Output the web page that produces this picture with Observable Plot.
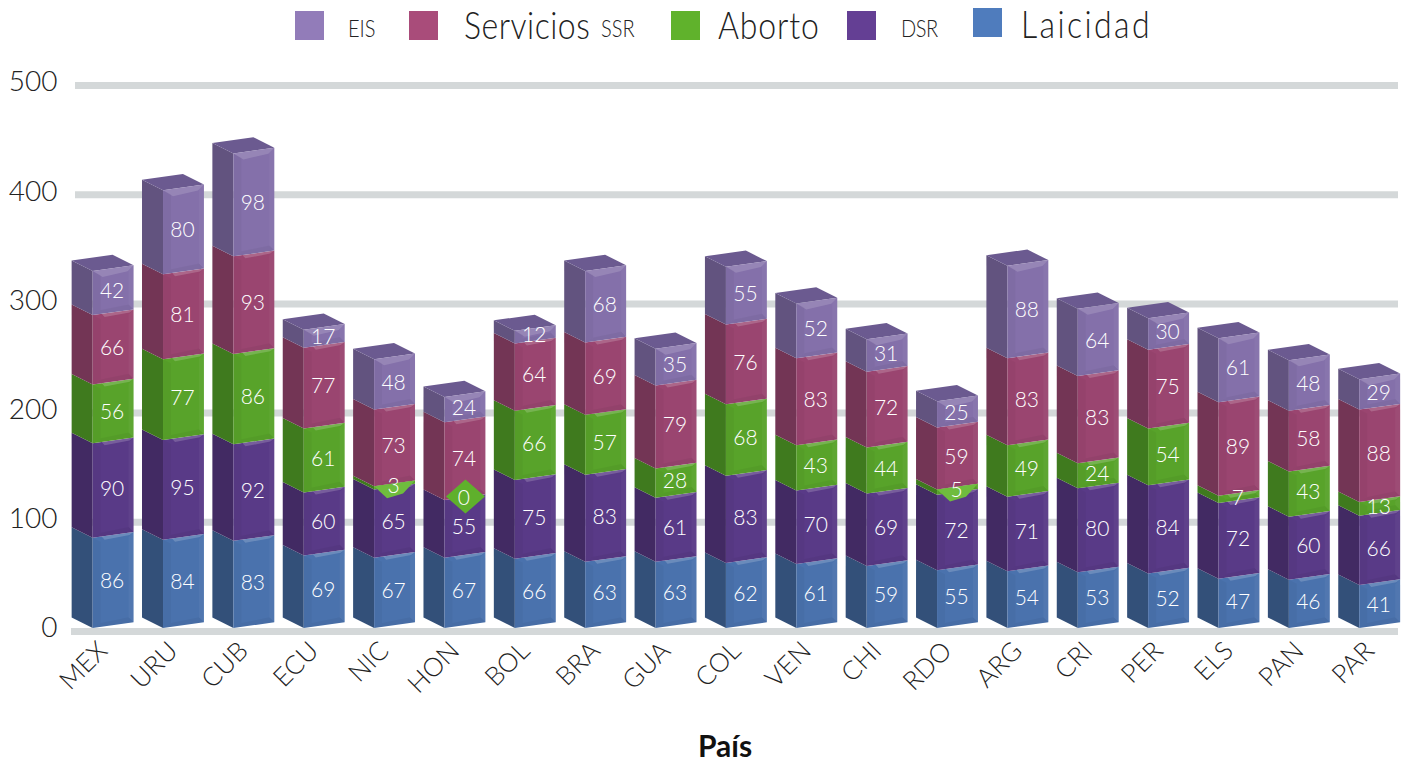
<!DOCTYPE html>
<html>
<head>
<meta charset="utf-8">
<script src="https://cdn.jsdelivr.net/npm/d3@7"></script>
<script src="https://cdn.jsdelivr.net/npm/@observablehq/plot@0.6"></script>
<style>
html,body{margin:0;padding:0;background:#fff;}
#page{position:relative;width:1402px;height:764px;overflow:hidden;font-family:Lato,"Open Sans",sans-serif;font-weight:300;color:#222;}
#legend{position:relative;height:50px;}
#legend span{position:absolute;white-space:nowrap;line-height:1;transform-origin:0 50%;}
#legend i{position:absolute;display:block;width:29px;height:29px;}
#chart svg{display:block;position:absolute;left:0;top:50px;overflow:visible;}
#xtitle{position:absolute;left:625px;width:200px;text-align:center;top:730px;line-height:30px;font-size:30px;font-weight:700;color:#111;font-family:Lato,sans-serif;}
</style>
</head>
<body>
<div id="page">
<div id="legend"></div>
<div id="chart"></div>
<div id="xtitle">País</div>
</div>
<script>
const codes = ["MEX","URU","CUB","ECU","NIC","HON","BOL","BRA","GUA","COL","VEN","CHI","RDO","ARG","CRI","PER","ELS","PAN","PAR"];
const laicidad = [86,84,83,69,67,67,66,63,63,62,61,59,55,54,53,52,47,46,41];
const dsr      = [90,95,92,60,65,55,75,83,61,83,70,69,72,71,80,84,72,60,66];
const aborto   = [56,77,86,61,3,0,66,57,28,68,43,44,5,49,24,54,7,43,13];
const ssr      = [66,81,93,77,73,74,64,69,79,76,83,72,59,83,83,75,89,58,88];
const eis      = [42,80,98,17,48,24,12,68,35,55,52,31,25,88,64,30,61,48,29];
const yTicks   = [0,100,200,300,400,500];

const seriesNames = ["Laicidad","DSR","Aborto","Servicios SSR","EIS"];
const seriesValues = [laicidad,dsr,aborto,ssr,eis];
const frontColors = ["#4a72ad","#593a87","#58a32a","#9a4570","#8470aa"];
const sideColors  = ["#335079","#422a63","#3f7a1e","#733555","#62537f"];
const topColor = "#6b5a90";

const rows = seriesNames.flatMap((series,s) => codes.map((code,i) => ({
  code, series, s, value: seriesValues[s][i]
})));

// Bars stand in front of the wall carrying the grid: perspective shortens them.
const depth = 0.9615;
const stacked = o => Plot.stackY({x:"code", y:d => d.value*depth, z:"series", ...o});

// projection of a band rect on the faces of the box
const OFF = -3, RISE = 5.7, BACKX = 21, BACKY = 10.5;
const geo = r => {
  const x=+r.getAttribute("x"), y=+r.getAttribute("y"), w=+r.getAttribute("width"), h=+r.getAttribute("height");
  return {x,y,w,h,fx:x+BACKX,fw:w-BACKX};
};
const matrixRender = (f,pred=()=>true) => (index,scales,values,dims,ctx,next) => {
  const g = next(index.filter(i=>pred(rows[i])),scales,values,dims,ctx);
  g.querySelectorAll("rect").forEach(r => r.setAttribute("transform", f(geo(r))));
  return g;
};
const frontM = ({x,w,fx,fw}) => {
  const a=fw/w,b=-RISE/w; return `matrix(${a} ${b} 0 1 ${fx-a*x} ${OFF-b*x})`;
};
const sideM = ({x,w}) => {
  const a=BACKX/w,b=BACKY/w; return `matrix(${a} ${b} 0 1 ${x-a*x} ${OFF-BACKY-b*x})`;
};
const topM = ({x,y,w,h,fx,fw}) => {
  const a=fw/w,b=-RISE/w,c=-BACKX/h,d=-BACKY/h;
  return `matrix(${a} ${b} ${c} ${d} ${fx-a*x-c*y} ${y+OFF-b*x-d*y})`;
};
const polyRender = (f,pred=()=>true) => (index,scales,values,dims,ctx,next) => {
  const g = next(index.filter(i=>pred(rows[i])),scales,values,dims,ctx);
  g.querySelectorAll("rect").forEach(r => {
    const pts = f(geo(r));
    const p = document.createElementNS("http://www.w3.org/2000/svg","path");
    p.setAttribute("d", pts ? "M"+pts.map(a=>a.join(",")).join("L")+"Z" : "M0,0");
    r.replaceWith(p);
  });
  return g;
};
const corners = ({y,h,fx,fw}) => ({
  tl:[fx,y+OFF], tr:[fx+fw,y+OFF-RISE], bl:[fx,y+h+OFF], br:[fx+fw,y+h+OFF-RISE]
});
const bev = q => Math.min(5,q.h/2);
const bevelTop = q => { if(q.h<4) return null; const c=corners(q),b=Math.min(6,q.h/2);
  return [c.tl,c.tr,[c.tr[0]-b,c.tr[1]+b],[c.tl[0]+b+4,c.tl[1]+b]]; };
const bevelThin = q => { if(q.h<4) return null; const c=corners(q);
  return [[c.tl[0]+9,c.tl[1]-1.3],c.tr,[c.tr[0]-4,c.tr[1]+3],[c.tl[0]+12,c.tl[1]+2]]; };
const bevelRight = q => { if(q.h<4) return null; const c=corners(q),b=bev(q);
  return [c.tr,c.br,[c.br[0]-b,c.br[1]-b],[c.tr[0]-b,c.tr[1]+b]]; };
const bevelLeft = q => { if(q.h<4) return null; const c=corners(q),b=bev(q);
  return [c.tl,[c.tl[0]+b+3,c.tl[1]+b-1],[c.bl[0]+b+3,c.bl[1]-b],c.bl]; };
const bevelBottom = q => { if(q.h<4) return null; const c=corners(q),b=bev(q);
  return [c.bl,c.br,[c.br[0]-b,c.br[1]-b],[c.bl[0]+b+3,c.bl[1]-b]]; };
const notch = q => { const c=corners(q); return [c.tl,c.tr,[c.tr[0]-12,c.tr[1]+13],[c.tl[0]+13,c.tl[1]+12]]; };
const diamond = q => { const c=corners(q); const cx=q.fx+q.fw/2+0.5, cy=c.tl[1]-RISE/2-0.5;
  return [[cx-19.5,cy],[cx,cy-17],[cx+19.5,cy],[cx,cy+17]]; };

const isEis = d => d.series==="EIS";
const plot = Plot.plot({
  width:1402, height:714,
  marginTop:35, marginBottom:133, marginLeft:63, marginRight:0,
  style:{background:"transparent",fontFamily:"Lato,sans-serif",fontWeight:300,overflow:"visible"},
  color:{type:"identity"},
  x:{domain:codes,range:[63.2,1408.6],padding:0.12,round:false,label:null},
  y:{domain:[0,500],label:null,ticks:yTicks},
  marks:[
    Plot.ruleY(yTicks.slice(1),{stroke:"#d4d8d9",strokeWidth:7,insetLeft:12,insetRight:4}),
    Plot.ruleY([0],{stroke:"#d4d8d9",strokeWidth:7,insetLeft:8,insetRight:4}),
    Plot.axisY({ticks:yTicks,tickSize:0,tickPadding:6,fontSize:28,fill:"#222",dy:-3,label:null}),
    Plot.axisX({tickRotate:-45,tickSize:0,tickPadding:15,fontSize:26,fill:"#222",label:null}),
    // side faces
    Plot.barY(rows,stacked({fill:d=>sideColors[d.s],render:matrixRender(sideM)})),
    // top face of each column
    Plot.barY(rows,stacked({fill:topColor,render:matrixRender(topM,isEis)})),
    // front faces
    Plot.barY(rows,stacked({fill:d=>frontColors[d.s],render:matrixRender(frontM)})),
    // bevels
    Plot.barY(rows,stacked({fill:"#fff",fillOpacity:0.15,render:polyRender(bevelTop,isEis)})),
    Plot.barY(rows,stacked({fill:"#fff",fillOpacity:0.18,render:polyRender(bevelThin,d=>d.value>0&&!isEis(d))})),
    Plot.barY(rows,stacked({fill:"#fff",fillOpacity:0.04,render:polyRender(bevelRight,d=>d.value>0)})),
    Plot.barY(rows,stacked({fill:"#000",fillOpacity:0.03,render:polyRender(bevelLeft,d=>d.value>0)})),
    Plot.barY(rows,stacked({fill:"#000",fillOpacity:0.04,render:polyRender(bevelBottom,d=>d.value>0)})),
    // very thin Aborto segments and the zero one
    Plot.barY(rows,stacked({fill:"#6fbc3e",render:polyRender(notch,d=>d.series==="Aborto"&&d.value>0&&d.value<6)})),
    Plot.barY(rows,stacked({fill:"#5fb02c",render:polyRender(diamond,d=>d.series==="Aborto"&&d.value===0)})),
    // value labels
    Plot.text(rows,stacked({text:"value",fill:"#fff",fontSize:21,fontWeight:300,dx:9,dy:-5})),
  ]
});
document.getElementById("chart").appendChild(plot);

// legend
const legendSwatches = [
  {x:295,y:11,c:"#927cb9"},{x:409,y:11,c:"#a94c7a"},{x:671,y:11,c:"#60b22c"},{x:847,y:11,c:"#643f94"},{x:973,y:8,c:"#4f7cbd"}
];
const legendTexts = [
  {x:348,y:18,s:"EIS",f:20,ls:0},{x:464,y:9,s:"Servicios",f:32,ls:0.5},{x:601,y:18,s:"SSR",f:20,ls:0},
  {x:718,y:9,s:"Aborto",f:32,ls:0.9},{x:901,y:18,s:"DSR",f:20,ls:-0.4},{x:1021,y:8,s:"Laicidad",f:32,ls:2.4}
];
const legend = document.getElementById("legend");
legendSwatches.forEach(d=>{const i=document.createElement("i");i.style.cssText=`left:${d.x}px;top:${d.y}px;background:${d.c}`;legend.appendChild(i);});
legendTexts.forEach(d=>{const t=document.createElement("span");t.textContent=d.s;t.style.cssText=`left:${d.x}px;top:${d.y}px;font-size:${d.f}px;letter-spacing:${d.ls}px;transform:scaleY(1.15)`;legend.appendChild(t);});
</script>
</body>
</html>
